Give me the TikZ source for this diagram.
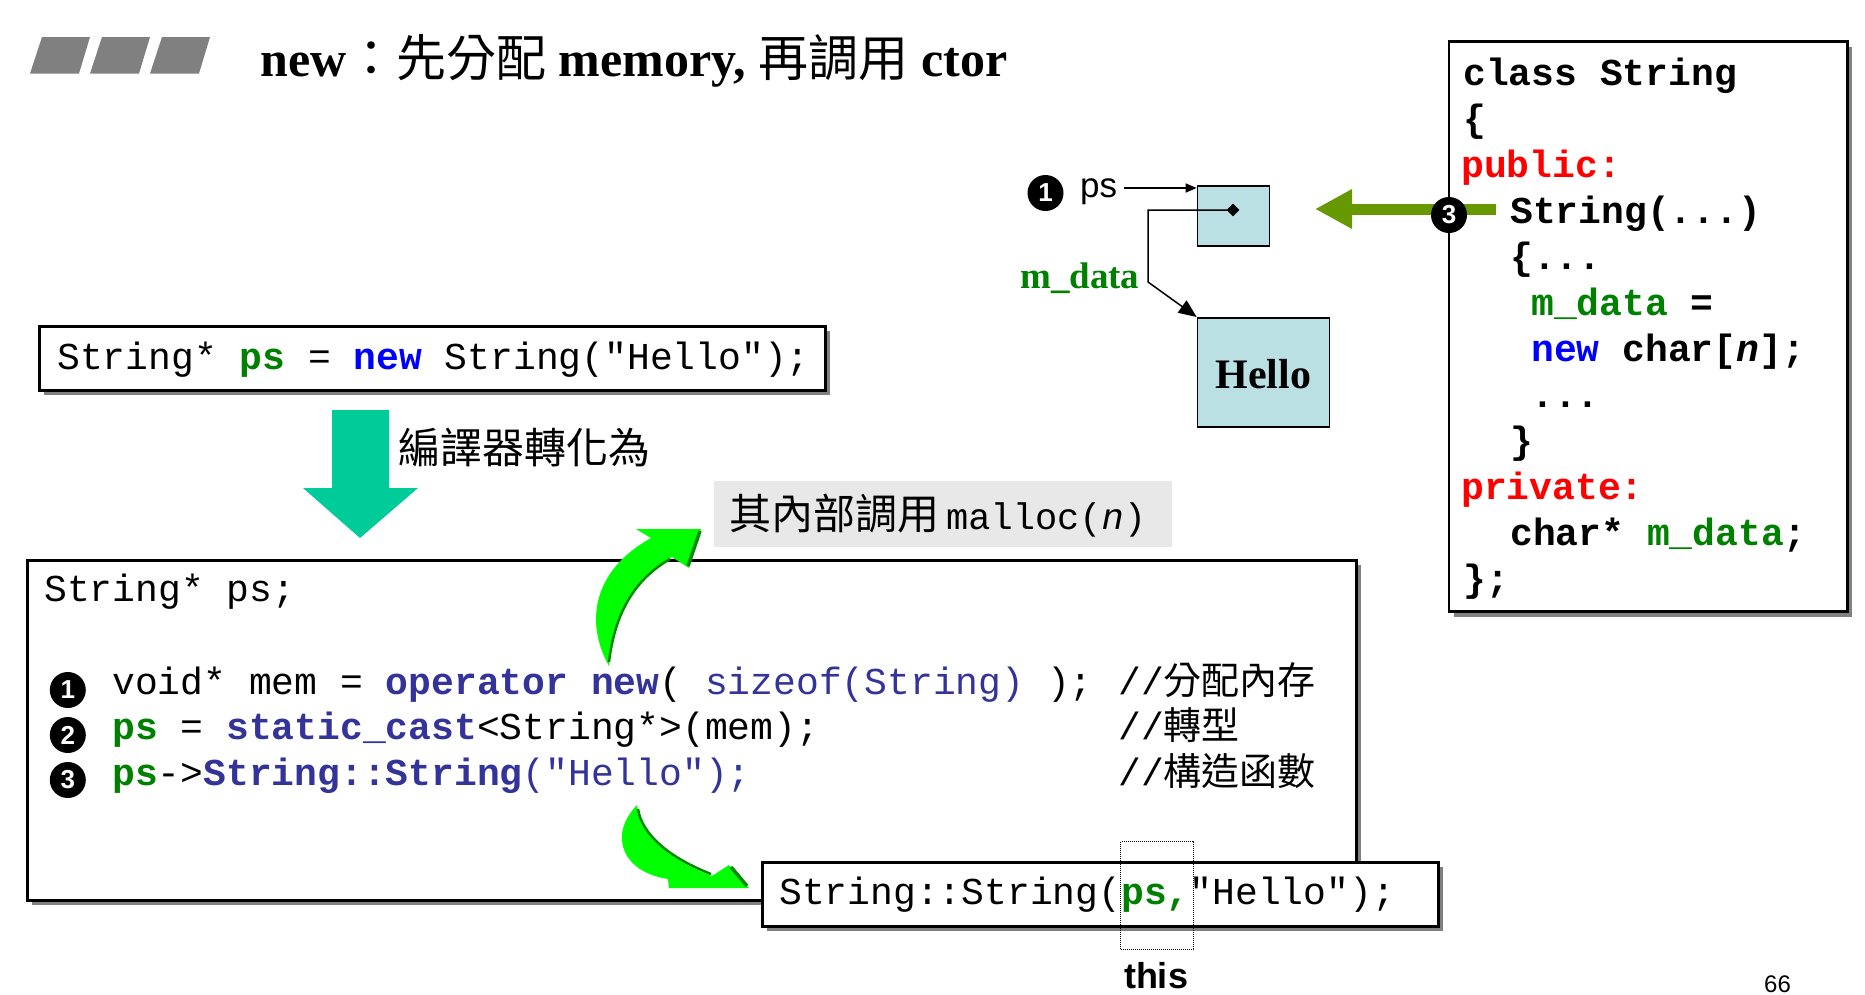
\documentclass[tikz,border=0pt]{standalone}
\usepackage{fontspec}
\setmainfont{Liberation Serif}
\setsansfont{Liberation Sans}
\setmonofont{Liberation Mono}
\newfontfamily\cjk{Noto Sans CJK TC}
\usetikzlibrary{arrows.meta,shapes.geometric,shadows}
\definecolor{codegreen}{RGB}{0,128,0}
\definecolor{navy}{RGB}{51,51,153}
\definecolor{kwblue}{RGB}{0,0,255}
\definecolor{olivearrow}{RGB}{102,153,0}
\definecolor{tealarrow}{RGB}{0,204,153}
\definecolor{boxblue}{RGB}{187,224,227}
\definecolor{lgray}{RGB}{232,232,232}
\definecolor{shadowgray}{RGB}{128,128,128}
\definecolor{brightgreen}{RGB}{0,255,0}
\definecolor{shadegreen}{RGB}{0,140,0}
\begin{document}
\begin{tikzpicture}[x=1pt,y=-1pt,
  codebox/.style={draw=black, line width=2.5pt, fill=white, inner sep=0pt, anchor=north west,
     drop shadow={shadow xshift=5pt, shadow yshift=-5pt, fill=shadowgray, opacity=1}},
  memcell/.style={draw=black, line width=1.5pt, fill=boxblue, inner sep=0pt, anchor=north west},
  codetxt/.style={anchor=base west, inner sep=0pt, font=\ttfamily\fontsize{38}{40}\selectfont},
  classtxt/.style={anchor=base west, inner sep=0pt, font=\ttfamily\bfseries\fontsize{38}{40}\selectfont},
  cmttxt/.style={anchor=base west, inner sep=0pt, font=\ttfamily\fontsize{38}{40}\selectfont},
  numdot/.style={circle, fill=black, minimum size=36pt, inner sep=0pt, text=white,
     font=\sffamily\bfseries\fontsize{26}{26}\selectfont},
  greenbody/.style={fill=brightgreen},
  greenshade/.style={draw=shadegreen, line width=3.5pt, line join=round}
]
\useasboundingbox (0,0) rectangle (1865,994);
\fill[white] (0,0) rectangle (1865,994);

% ---------- title ----------
\foreach \i in {0,1,2} {
  \fill[shadowgray] ({30+60*\i},73.6) -- ({79+60*\i},73.6) -- ({90+60*\i},37) -- ({42+60*\i},37) -- cycle;
}
\node[anchor=base west, inner sep=0pt, font=\bfseries\fontsize{50}{52}\selectfont] (title) at (260,76)
  {new{\cjk\mdseries ：先分配} memory, {\cjk\mdseries 再調用} ctor};

% ---------- top code box ----------
\node[codebox, minimum width=786pt, minimum height=64pt] (codetop) at (38,325) {};
\node[codetxt] (codetopline) at (57,369)
  {String* \textcolor{codegreen}{\bfseries ps} = \textcolor{kwblue}{\bfseries new} String("Hello");};

% ---------- teal down arrow ----------
\fill[tealarrow] (332,410) -- (389,410) -- (389,488) -- (418,488) -- (360,538) -- (303,488) -- (332,488) -- cycle;
\node[anchor=base west, inner sep=0pt, font=\cjk\fontsize{42}{44}\selectfont] (compiles) at (398,463) {編譯器轉化為};

% ---------- malloc note ----------
\node[fill=lgray, inner sep=0pt, anchor=north west, minimum width=458pt, minimum height=66.5pt] (mallocbox) at (713.6,480.5) {};
\node[anchor=base west, inner sep=0pt] (malloctxt) at (729,529)
  {{\cjk\fontsize{42}{44}\selectfont 其內部調用}\hspace{7pt}{\ttfamily\fontsize{37}{40}\selectfont malloc(\textit{n})}};

% ---------- main box ----------
\node[codebox, minimum width=1329pt, minimum height=340pt] (mainbox) at (26,559) {};
\node[codetxt] (decl) at (44,601) {String* ps;};
\node[codetxt] (line1) at (112,694)
  {void* mem = \textcolor{navy}{\bfseries operator new}( \textcolor{navy}{sizeof(String)} );};
\node[codetxt] (line2) at (112,739)
  {\textcolor{codegreen}{\bfseries ps} = \textcolor{navy}{\bfseries static\_cast}<String*>(mem);};
\node[codetxt] (line3) at (112,785)
  {\textcolor{codegreen}{\bfseries ps}->\textcolor{navy}{\bfseries String::String}\textcolor{navy}{("Hello");}};
\node[cmttxt] (cmt1) at (1118,694) {//{\cjk 分配內存}};
\node[cmttxt] (cmt2) at (1118,739) {//{\cjk 轉型}};
\node[cmttxt] (cmt3) at (1118,785) {//{\cjk 構造函數}};
\node[numdot] (n1) at (67.8,690) {1};
\node[numdot] (n2) at (67.8,735) {2};
\node[numdot] (n3) at (67.8,780) {3};

% ---------- ctor call box ----------
\node[codebox, minimum width=676pt, minimum height=64pt] (ctorbox) at (761,861) {};
\node[codetxt] (ctorline) at (779,904)
  {String::String(\textcolor{codegreen}{\bfseries ps,}"Hello");};
\node[draw=black, densely dotted, line width=1pt, inner sep=0pt, anchor=north west,
      minimum width=73pt, minimum height=108pt] (thisbox) at (1120,841) {};
\node[anchor=base, inner sep=0pt, font=\sffamily\bfseries\fontsize{36}{38}\selectfont] (thislabel) at (1156,988) {this};

% ---------- bright green curved arrows ----------
% upward arrow (to malloc note)
\fill[greenbody] (609,666) .. controls (586,625) and (590,572) .. (651,538) -- (636,529) -- (701,529)
   -- (689,568) -- (672,557) .. controls (630,580) and (613,620) .. (609,666) -- cycle;
\draw[greenshade] (700,531) -- (688,566);
\draw[shadegreen, line width=2.5pt] (670,559) .. controls (630,582) and (614,620) .. (609,662);
% downward arrow (to ctor box)
\fill[greenbody] (637,805) .. controls (608,835) and (622,872) .. (668,879) -- (669,888) -- (749,888)
   -- (729,865) -- (712,876) .. controls (670,860) and (640,835) .. (637,805) -- cycle;
\draw[greenshade] (731,867) -- (747,886);
\draw[shadegreen, line width=2.5pt] (711,874) .. controls (670,858) and (642,835) .. (638,809);

% ---------- class box ----------
\node[codebox, minimum width=398.5pt, minimum height=570pt] (classbox) at (1447.5,40.4) {};
\node[classtxt] (c0) at (1463,85) {class String};
\node[classtxt] (c1) at (1463,131) {\{};
\node[classtxt] (c2) at (1461,177) {\textcolor{red}{public:}};
\node[classtxt] (c3) at (1510,223) {String(...)};
\node[classtxt] (c4) at (1510,269) {\{...};
\node[classtxt] (c5) at (1531,315) {\textcolor{codegreen}{m\_data} =};
\node[classtxt] (c6) at (1531,361) {\textcolor{kwblue}{new} char[\textit{n}];};
\node[classtxt] (c7) at (1531,407) {...};
\node[classtxt] (c8) at (1510,453) {\}};
\node[classtxt] (c9) at (1461,499) {\textcolor{red}{private:}};
\node[classtxt] (c10) at (1510,545) {char* \textcolor{codegreen}{m\_data};};
\node[classtxt] (c11) at (1463,591) {\};};

% olive arrow from ctor to memory
\coordinate (olivestart) at (1496,209);
\coordinate (olivetip) at (1315,209);
\draw[olivearrow, line width=11pt, -{Triangle[length=37pt,width=37pt]}] (olivestart) -- (olivetip);
\node[numdot] (n3b) at (1449,215) {3};

% ---------- memory diagram ----------
\node[numdot] (n1b) at (1045.5,193) {1};
\node[anchor=base west, inner sep=0pt, font=\sffamily\fontsize{35}{36}\selectfont] (pslabel) at (1080,197) {ps};
\node[memcell, minimum width=72pt, minimum height=60pt] (psbox) at (1196.7,185) {};
\node[memcell, minimum width=132pt, minimum height=109pt, anchor=north west] (hellobox) at (1196.7,317) {};
\node[font=\bfseries\fontsize{42}{44}\selectfont, inner sep=0pt] (hellotxt) at ([yshift=-2pt]hellobox.center) {Hello};
\node[diamond, fill=black, minimum size=13pt, inner sep=0pt] (dot) at (1233,210) {};
\node[anchor=base west, inner sep=0pt, text=codegreen, font=\bfseries\fontsize{37}{38}\selectfont] (mdatalabel) at (1020,288) {m\_data};
\coordinate (psstart) at (1124,188);
\draw[line width=1.5pt, -{Triangle[length=11pt,width=9pt]}] (psstart) -- (psstart -| psbox.west);
\coordinate (bendA) at (1148,210);
\coordinate (bendB) at (1148,282);
\draw[line width=1.5pt, -{Triangle[length=18pt,width=15pt]}] (dot.center) -- (bendA) -- (bendB) -- (hellobox.north west);

% page number
\node[anchor=base west, inner sep=0pt, font=\sffamily\fontsize{24}{24}\selectfont] (pagenum) at (1764,992) {66};
\end{tikzpicture}
\end{document}
